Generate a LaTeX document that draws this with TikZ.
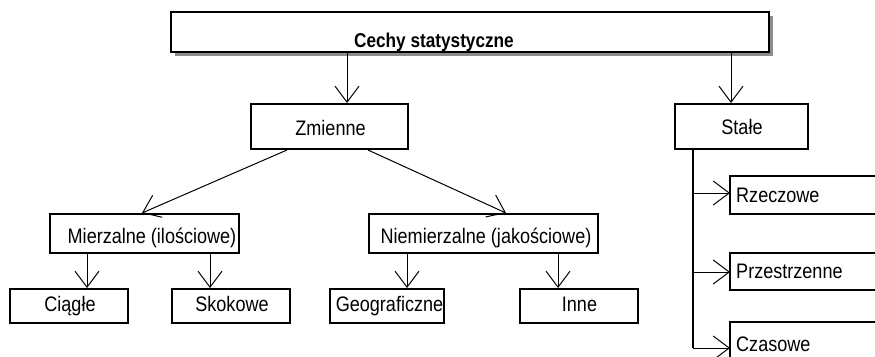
\documentclass[tikz,border=0pt]{standalone}
\usepackage{fontspec}
\setmainfont{Liberation Sans}[FakeStretch=0.86]
\usetikzlibrary{arrows.meta,calc,shadows}
\begin{document}
\begin{tikzpicture}[x=1pt,y=-1pt,
  box/.style={draw=black,line width=2pt,fill=white,rectangle,inner sep=0pt},
  lbl/.style={inner sep=0pt,font=\fontsize{21}{24}\selectfont},
  arr/.style={line width=1pt,-{Straight Barb[length=16pt,width=24pt,line width=1pt]}},
  ln/.style={line width=1.3pt}]
\path[use as bounding box,clip] (0,0) rectangle (875,356);
% boxes
\node[box,minimum width=598pt,minimum height=40pt,
  drop shadow={shadow xshift=4pt,shadow yshift=-4pt,fill=black!45,opacity=1}] (top) at (470,32) {};
\node[box,minimum width=157pt,minimum height=45pt] (zm) at (329.5,126.5) {};
\node[box,minimum width=133pt,minimum height=45pt] (st) at (741.5,126.5) {};
\node[box,minimum width=189pt,minimum height=39pt] (mi) at (144.5,233.5) {};
\node[box,minimum width=229pt,minimum height=39pt] (ni) at (483.5,233.5) {};
\node[box,minimum width=118pt,minimum height=34pt] (ci) at (69,306) {};
\node[box,minimum width=118pt,minimum height=34pt] (sk) at (231,306) {};
\node[box,minimum width=114pt,minimum height=34pt] (ge) at (387,306) {};
\node[box,minimum width=118pt,minimum height=34pt] (in) at (579,306) {};
\node[box,minimum width=160pt,minimum height=38pt] (rz) at (810,195) {};
\node[box,minimum width=160pt,minimum height=37pt] (pr) at (810,271.5) {};
\node[box,minimum width=160pt,minimum height=48pt] (cz) at (810,346) {};
% texts
\node[lbl,anchor=base,font=\fontsize{20}{24}\selectfont\bfseries] (topT) at (434,47.5) {Cechy statystyczne};
\node[lbl,anchor=base] (zmT) at (330.5,135) {Zmienne};
\node[lbl,anchor=base] (stT) at (742,134) {Stałe};
\node[lbl,anchor=base] (miT) at (152,243) {Mierzalne (ilościowe)};
\node[lbl,anchor=base] (niT) at (486,243) {Niemierzalne (jakościowe)};
\node[lbl,anchor=base] (ciT) at (70,311) {Ciągłe};
\node[lbl,anchor=base] (skT) at (232,311) {Skokowe};
\node[lbl,anchor=base] (geT) at (389.5,311) {Geograficzne};
\node[lbl,anchor=base] (inT) at (579.5,311) {Inne};
\node[lbl,anchor=base west] (rzT) at (736,202) {Rzeczowe};
\node[lbl,anchor=base west] (prT) at (736,278) {Przestrzenne};
\node[lbl,anchor=base west] (czT) at (736,351) {Czasowe};
% connectors
\coordinate (a1) at (347,0);
\coordinate (a2) at (731,0);
\draw[arr] (top.south -| a1) -- (zm.north -| a1);
\draw[arr] (top.south -| a2) -- (st.north -| a2);
\draw[arr] ($(zm.south west)+(37,0)$) -- ($(mi.north west)+(93,0)$);
\draw[arr] ($(zm.south west)+(118,0)$) -- ($(ni.north west)+(138,0)$);
\coordinate (b1) at (87,0);
\coordinate (b2) at (210,0);
\coordinate (b3) at (407,0);
\coordinate (b4) at (558,0);
\draw[arr] (mi.south -| b1) -- (ci.north -| b1);
\draw[arr] (mi.south -| b2) -- (sk.north -| b2);
\draw[arr] (ni.south -| b3) -- (ge.north -| b3);
\draw[arr] (ni.south -| b4) -- (in.north -| b4);
\coordinate (c1) at (693,0);
\coordinate (rzA) at (730,193);
\coordinate (prA) at (730,272);
\coordinate (czA) at (730,348);
\draw[ln] (st.south -| c1) -- (czA -| c1);
\draw[arr] (rzA -| c1) -- (rzA);
\draw[arr] (prA -| c1) -- (prA);
\draw[arr] (czA -| c1) -- (czA);
\end{tikzpicture}
\end{document}
